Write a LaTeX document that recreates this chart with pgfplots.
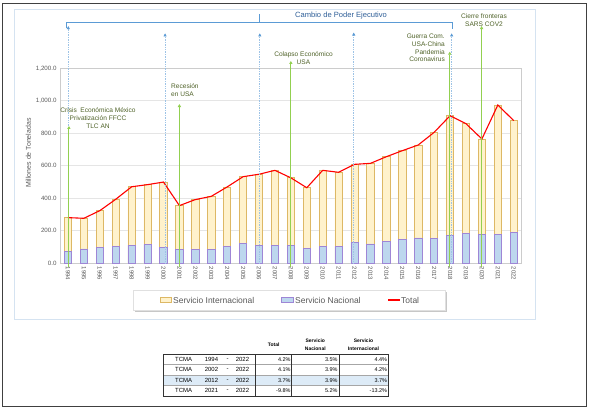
\documentclass[border=0pt]{standalone}
\usepackage{pgfplots}
\pgfplotsset{compat=1.18}
\usepackage{pgfplotstable}
\usepackage{fontspec}
\setmainfont{Liberation Sans}
\usetikzlibrary{arrows.meta}
\definecolor{intfill}{HTML}{FFF2CC}
\definecolor{intdraw}{HTML}{DDB865}
\definecolor{natfill}{HTML}{BDD7EE}
\definecolor{natdraw}{HTML}{9E86D6}
\definecolor{grn}{HTML}{92D050}
\definecolor{blu}{HTML}{5B9BD5}
\definecolor{bludot}{HTML}{9DC3E6}
\definecolor{anntext}{HTML}{4F6228}
\definecolor{titleblue}{HTML}{2F5F98}
\definecolor{labgray}{HTML}{595959}
\definecolor{frameblue}{HTML}{D5E3F1}
\definecolor{rowblue}{HTML}{DDEBF7}
\pgfplotstableread{
i year nat intl total
0 1994 71 210 281
1 1995 88 189 277
2 1996 96 228 324
3 1997 102 292 394
4 1998 111 360 471
5 1999 117 367 484
6 2000 98 402 500
7 2001 86 269 355
8 2002 86 306 392
9 2003 86 326 412
10 2004 102 368 470
11 2005 121 412 533
12 2006 108 440 548
13 2007 108 464 572
14 2008 108 418 526
15 2009 94 371 465
16 2010 105 467 572
17 2011 102 458 560
18 2012 129 480 609
19 2013 119 496 615
20 2014 137 519 656
21 2015 148 545 693
22 2016 156 572 728
23 2017 154 652 806
24 2018 172 736 908
25 2019 185 674 859
26 2020 180 585 765
27 2021 180 794 974
28 2022 191 687 878
}\data
\newcommand\fs[2]{\fontsize{#1}{#2}\selectfont}
\begin{document}
\begin{tikzpicture}
\useasboundingbox (0bp,0bp) rectangle (589bp,410bp);
\begin{scope}[x=1bp,y=1bp]
\fill[white] (0,0) rectangle (589,410);
\draw[black!75, line width=1.3bp] (2.7,3.3) rectangle (586.7,406.7);
\draw[frameblue, line width=0.8bp] (14.3,90.7) rectangle (535,400.7);
\end{scope}
\begin{axis}[
  at={(60bp,146.7bp)}, anchor=south west,
  scale only axis, width=461.7bp, height=195bp,
  xmin=-0.5, xmax=28.5, ymin=0, ymax=1200,
  clip=false,
  axis line style={draw=black!20, line width=0.6bp},
  ymajorgrids, grid style={draw=black!10, line width=0.6bp},
  major tick length=0pt,
  ytick={0,200,400,600,800,1000,1200},
  xtick={0,...,28},
  xticklabels from table={\data}{year},
  xticklabel style={rotate=-90, anchor=west, inner sep=0pt, xshift=3.5bp, font=\fs{6}{7}, text=labgray},
  yticklabel style={font=\fs{6.2}{7}, text=labgray,
    /pgf/number format/.cd, fixed, fixed zerofill, precision=1, 1000 sep={,}, assume math mode=true},
]
\addplot[ybar, bar width=7.3bp, bar shift=0pt, fill=intfill, draw=intdraw, line width=0.7bp] table[x=i, y=total] {\data};
\addplot[ybar, bar width=7.3bp, bar shift=0pt, fill=natfill, draw=natdraw, line width=0.7bp] table[x=i, y=nat] {\data};
\addplot[red, line width=1.1bp, mark=none, sharp plot] table[x=i, y=total] {\data};
% blue dotted markers
\draw[bludot, line width=0.7bp, densely dotted, -{Triangle[width=3bp,length=3bp,color=blu]}] (axis cs:0.02,0) -- (axis cs:0.02,1460);
\draw[bludot, line width=0.7bp, densely dotted, -{Triangle[width=3bp,length=3bp,color=blu]}] (axis cs:6.1,0) -- (axis cs:6.1,1415);
\draw[bludot, line width=0.7bp, densely dotted, -{Triangle[width=3bp,length=3bp,color=blu]}] (axis cs:12.05,0) -- (axis cs:12.05,1415);
\draw[bludot, line width=0.7bp, densely dotted, -{Triangle[width=3bp,length=3bp,color=blu]}] (axis cs:17.95,0) -- (axis cs:17.95,1420);
\draw[bludot, line width=0.7bp, densely dotted, -{Triangle[width=3bp,length=3bp,color=blu]}] (axis cs:24.1,0) -- (axis cs:24.1,1415);
% green arrows
\draw[grn, line width=1bp, -{Triangle[width=3.2bp,length=3bp]}] (axis cs:0.06,-20) -- (axis cs:0.06,845);
\draw[grn, line width=1bp, -{Triangle[width=3.2bp,length=3bp]}] (axis cs:7,-20) -- (axis cs:7,980);
\draw[grn, line width=1bp, -{Triangle[width=3.2bp,length=3bp]}] (axis cs:14,-20) -- (axis cs:14,1245);
\draw[grn, line width=1bp, -{Triangle[width=3.2bp,length=3bp]}] (axis cs:23.98,-20) -- (axis cs:23.98,1302);
\draw[grn, line width=1bp, -{Triangle[width=3.2bp,length=3bp]}] (axis cs:25.98,-20) -- (axis cs:25.98,1460);
\end{axis}
\begin{scope}[x=1bp,y=1bp]
% y label
\node[rotate=90, inner sep=0, text=labgray, font=\fs{7}{8}] at (28.3,257) {Millones de Toneladas};
% bracket
\draw[blu, line width=0.8bp] (66.7,382) -- (66.7,387.7) -- (452,387.7) -- (452,381);
\draw[blu, line width=0.8bp] (259,387.7) -- (259,396);
\node[inner sep=0, text=titleblue, font=\fs{7.6}{9}] at (341,394) {Cambio de Poder Ejecutivo};
% annotations
\node[inner sep=0, align=center, text=anntext, font=\fs{6.6}{7.8}] at (98,291.7) {Crisis\ \ Económica México\\Privatización FFCC\\TLC AN};
\node[inner sep=0, anchor=west, align=left, text=anntext, font=\fs{6.6}{7.8}] at (171,320) {Recesión\\en USA};
\node[inner sep=0, align=center, text=anntext, font=\fs{6.6}{7.8}] at (303.5,351.8) {Colapso Económico\\USA};
\node[inner sep=0, anchor=east, align=right, text=anntext, font=\fs{6.6}{7.6}] at (445,362) {Guerra Com.\\USA-China\\Pandemia\\Coronavirus};
\node[inner sep=0, align=center, text=anntext, font=\fs{6.6}{7.8}] at (484,390.2) {Cierre fronteras\\SARS COV2};
% legend
\fill[black!22] (134.5,98.3) rectangle (446.8,117.8);
\draw[black!12, fill=white, line width=0.5bp] (133,100) rectangle (445,119.3);
\draw[intdraw, fill=intfill, line width=0.7bp] (160,107.7) rectangle (171.7,112.3);
\node[inner sep=0, anchor=west, text=labgray, font=\fs{8.5}{10}] at (173,110) {Servicio Internacional};
\draw[natdraw, fill=natfill, line width=0.7bp] (281.7,107.7) rectangle (293.4,112.3);
\node[inner sep=0, anchor=west, text=labgray, font=\fs{8.5}{10}] at (295,110) {Servicio Nacional};
\draw[red, line width=1.1bp] (388.3,110) -- (400,110);
\node[inner sep=0, anchor=west, text=labgray, font=\fs{8.5}{10}] at (401,110) {Total};
% table
\fill[rowblue] (163.3,24.6) rectangle (388.3,35);
\draw[black!35, line width=0.5bp] (163.3,45.6) -- (388.3,45.6) (163.3,35) -- (388.3,35) (163.3,24.6) -- (388.3,24.6);
\draw[black!80, line width=0.7bp] (163.3,14) rectangle (388.3,56);
\draw[black!80, line width=0.7bp] (255.7,14) -- (255.7,56) (291.7,14) -- (291.7,56) (339,14) -- (339,56);
\node[inner sep=0, font=\bfseries\fs{5}{7.5}] at (273.7,65) {Total};
\node[inner sep=0, align=center, font=\bfseries\fs{5}{7.8}] at (315.3,65) {Servicio\\Nacional};
\node[inner sep=0, align=center, font=\bfseries\fs{5}{7.8}] at (363.5,65) {Servicio\\Internacional};
\foreach \yy/\ya/\yb/\ta/\tb/\tc in {50.8/1994/2022/4.2\%/3.5\%/4.4\%, 40.3/2002/2022/4.1\%/3.9\%/4.2\%, 29.8/2012/2022/3.7\%/3.9\%/3.7\%, 19.3/2021/2022/-9.8\%/5.2\%/-13.2\%}{
  \node[inner sep=0, anchor=west, font=\fs{6}{7}] at (175,\yy) {TCMA};
  \node[inner sep=0, font=\fs{6}{7}] at (211.5,\yy) {\ya};
  \node[inner sep=0, font=\fs{6}{7}] at (227.5,\yy) {-};
  \node[inner sep=0, font=\fs{6}{7}] at (242.5,\yy) {\yb};
  \node[inner sep=0, anchor=east, font=\fs{5.5}{7}] at (290.7,\yy) {\ta};
  \node[inner sep=0, anchor=east, font=\fs{5.5}{7}] at (337.8,\yy) {\tb};
  \node[inner sep=0, anchor=east, font=\fs{5.5}{7}] at (387.3,\yy) {\tc};
}
\end{scope}
\end{tikzpicture}
\end{document}
